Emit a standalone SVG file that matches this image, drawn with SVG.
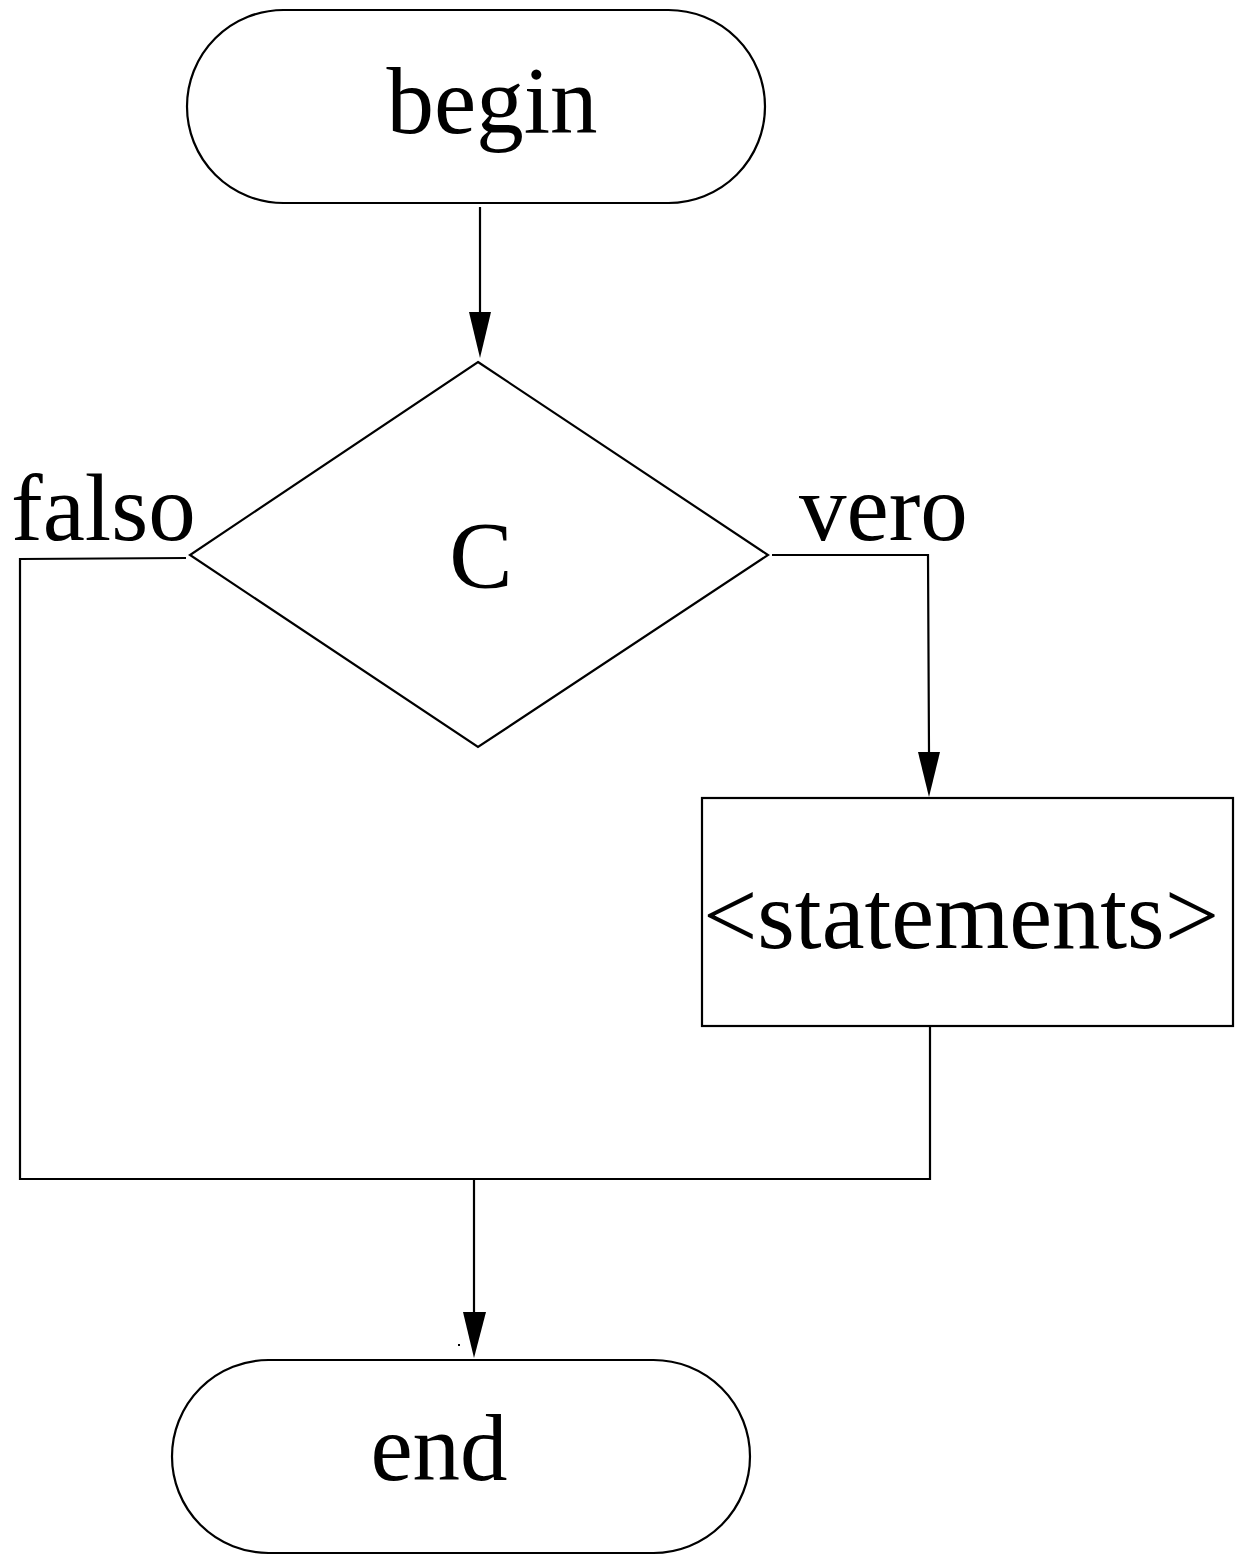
<svg xmlns="http://www.w3.org/2000/svg" width="1239" height="1555" viewBox="0 0 1239 1555">
<style>
.s{fill:none;stroke:#000;stroke-width:2.2}
.a{fill:#000;stroke:none}
.t{font-family:"Liberation Serif","Times New Roman",serif;font-size:95px;fill:#000}
.m{text-anchor:middle}
</style>
<rect width="1239" height="1555" fill="#fff"/>
<g id="connectors">
<path class="s" d="M480,207 L480,312"/>
<path class="a" d="M469,312 L491,312 L480,358 Z"/>
<path class="s" d="M186,558 L20,559 L20,1179 L930,1179 L930,1026"/>
<path class="s" d="M772,555 L928,555 L929,752"/>
<path class="a" d="M918,752 L940,752 L929,797 Z"/>
<path class="s" d="M474,1179 L474,1312"/>
<path class="a" d="M463,1312 L486,1312 L474,1358 Z"/>
<rect class="a" x="458" y="1344" width="2" height="2"/>
</g>
<g id="begin">
<rect class="s" x="187" y="10" width="578" height="193" rx="96.5" ry="96.5"/>
<text class="t m" x="492" y="133">begin</text>
</g>
<g id="cond">
<path class="s" d="M478,362 L768,555 L478,747 L190,555 Z"/>
<text class="t m" x="481" y="588">C</text>
</g>
<g id="labels">
<text class="t" x="11" y="540">falso</text>
<text class="t" x="799" y="540">vero</text>
</g>
<g id="statements">
<rect class="s" x="702" y="798" width="531" height="228"/>
<text class="t m" x="961" y="948" style="font-size:96.5px">&lt;statements&gt;</text>
</g>
<g id="end">
<rect class="s" x="172" y="1360" width="578" height="193" rx="96.5" ry="96.5"/>
<text class="t m" x="439" y="1480">end</text>
</g>
</svg>
